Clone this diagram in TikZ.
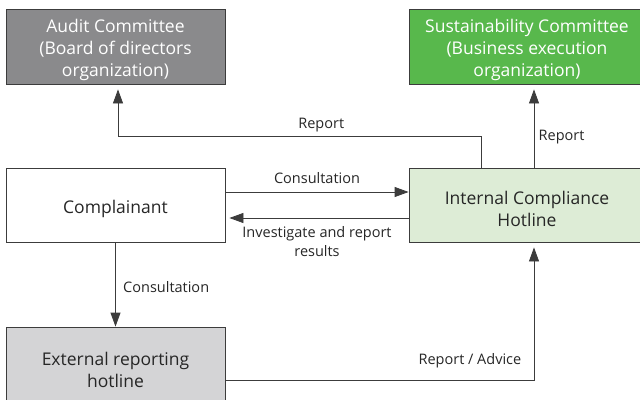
\documentclass[tikz,border=0pt]{standalone}
\usepackage{fontspec}
\setmainfont{Open Sans}
\usepackage{xcolor}
\usetikzlibrary{positioning,arrows.meta}

\definecolor{auditgray}{RGB}{138,138,140}
\definecolor{sustgreen}{RGB}{88,184,76}
\definecolor{hotgreen}{RGB}{221,236,214}
\definecolor{extgray}{RGB}{212,212,214}
\definecolor{linegray}{RGB}{60,60,60}
\newcommand{\lift}{\rule{0pt}{21pt}}

\begin{document}
\begin{tikzpicture}[x=1pt,y=-1pt,
  every node/.style={font=\fontsize{14.5}{19}\selectfont,text=black!85},
  box/.style={draw=linegray,line width=0.8pt,align=center,inner sep=0pt,
    font=\fontsize{17.5}{22}\selectfont},
  arr/.style={draw=linegray,line width=0.8pt,-{Triangle[length=14pt,width=10pt]}}]
  \clip (0,0) rectangle (640,399);
  % boxes
  \node[box,fill=auditgray,text=white,minimum width=219pt,minimum height=75pt] (audit) at (115.5,46.5)
    {\lift Audit Committee\\(Board of directors\\organization)};
  \node[box,fill=sustgreen,text=white,minimum width=236pt,minimum height=75pt] (sustain) at (527,46.5)
    {\lift Sustainability Committee\\(Business execution\\organization)};
  \node[box,fill=white,minimum width=219pt,minimum height=74pt] (complainant) at (115.5,205)
    {\lift Complainant};
  \node[box,fill=hotgreen,minimum width=236pt,minimum height=74pt] (internal) at (527,205)
    {\lift Internal Compliance\\Hotline};
  \node[box,fill=extgray,minimum width=219pt,minimum height=78pt] (external) at (115.5,366)
    {\lift External reporting\\hotline};
  % connectors
  \draw[arr] ([yshift=13pt]complainant.east) -- ([yshift=13pt]internal.west)
    node[midway,above,yshift=5pt]{Consultation};
  \draw[arr,shorten >=4pt] ([yshift=-13pt]internal.west) -- ([yshift=-13pt]complainant.east)
    node[midway,below,align=center,yshift=-5pt]{Investigate and report\\results};
  \draw[arr,shorten >=5pt] ([xshift=-46pt]internal.north) -- ++(0,-31) -| ([xshift=2.5pt]audit.south)
    node[pos=0.22,above,yshift=1pt]{Report};
  \draw[arr,shorten >=5pt] ([xshift=7pt]internal.north) -- ([xshift=7pt]sustain.south)
    node[pos=0.4,right,xshift=1pt,yshift=-3pt]{Report};
  \draw[arr] (complainant.south) -- (external.north)
    node[midway,right,xshift=4pt,yshift=-3pt]{Consultation};
  \draw[arr,shorten >=5pt] ([yshift=-14pt]external.east) -| ([xshift=7pt]internal.south)
    node[pos=0.5,anchor=south east,xshift=-9pt,yshift=8pt]{Report / Advice};
\end{tikzpicture}
\end{document}
